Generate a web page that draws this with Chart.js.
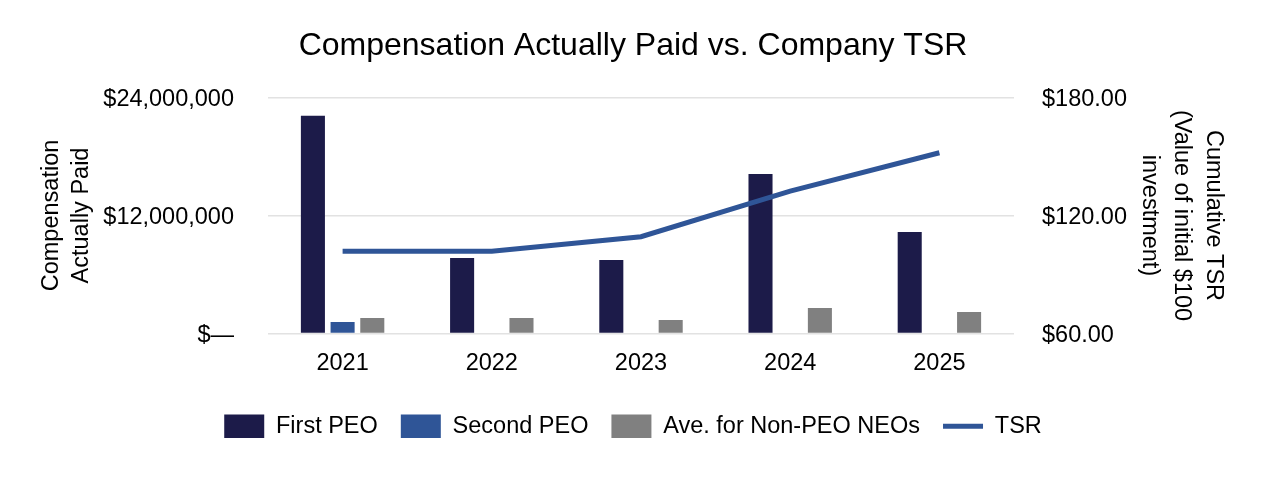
<!DOCTYPE html>
<html>
<head>
<meta charset="utf-8">
<script src="https://cdn.jsdelivr.net/npm/chart.js@4"></script>
<style>
html,body{margin:0;padding:0;background:#fff;}
#wrap{width:1266px;height:480px;position:relative;}
</style>
</head>
<body>
<div id="wrap"><canvas id="c"></canvas></div>
<script>
const categories = ['2021', '2022', '2023', '2024', '2025'];
const firstPEO = [22150000, 7680000, 7470000, 16220000, 10320000];
const secondPEO = [1170000, null, null, null, null];
const nonPEO = [1580000, 1580000, 1370000, 2590000, 2190000];
const tsr = [101.8, 101.8, 109.2, 132.4, 151.9];
const leftTickLabels = ['$\u2014', '$12,000,000', '$24,000,000'];
const rightTickLabels = ['$60.00', '$120.00', '$180.00'];
const seriesNames = ['First PEO', 'Second PEO', 'Ave. for Non-PEO NEOs', 'TSR'];
const chartTitle = 'Compensation Actually Paid vs. Company TSR';
const leftTitle = ['Compensation', 'Actually Paid'];
const rightTitle = ['Cumulative TSR', '(Value of initial $100', 'investment)'];

Chart.defaults.font.family = '"Liberation Sans", Arial, Helvetica, sans-serif';
Chart.defaults.color = '#000';

const FS = 23.5;

new Chart(document.getElementById('c'), {
  type: 'bar',
  data: {
    labels: categories,
    datasets: [
      { label: seriesNames[0], data: firstPEO, backgroundColor: '#1c1b49', yAxisID: 'y', order: 1,
        categoryPercentage: 0.597, barPercentage: 0.81 },
      { label: seriesNames[1], data: secondPEO, backgroundColor: '#2f5597', yAxisID: 'y', order: 1,
        categoryPercentage: 0.597, barPercentage: 0.81 },
      { label: seriesNames[2], data: nonPEO, backgroundColor: '#808080', yAxisID: 'y', order: 1,
        categoryPercentage: 0.597, barPercentage: 0.81 },
      { type: 'line', label: seriesNames[3], data: tsr, yAxisID: 'y1', order: 0,
        borderColor: '#2f5597', backgroundColor: '#2f5597', borderWidth: 5,
        pointRadius: 0, pointHoverRadius: 0, tension: 0, fill: false }
    ]
  },
  options: {
    responsive: true,
    maintainAspectRatio: false,
    animation: false,
    events: [],
    layout: { padding: { left: 0, right: 0, top: 0, bottom: 32 } },
    plugins: {
      title: {
        display: true,
        text: chartTitle,
        color: '#000',
        font: { size: 32, weight: 'normal' },
        padding: { top: 26.7, bottom: 32.4 }
      },
      legend: {
        position: 'bottom',
        labels: {
          usePointStyle: true,
          pointStyleWidth: 40,
          boxHeight: FS,
          padding: 23,
          color: '#000',
          font: { size: FS },
          sort: (a, b) => a.datasetIndex - b.datasetIndex,
          generateLabels: (chart) => {
            const items = Chart.defaults.plugins.legend.labels.generateLabels(chart);
            items.forEach(it => {
              if (it.datasetIndex === 3) {
                it.pointStyle = 'line';
                it.lineWidth = 5;
                it.strokeStyle = '#2f5597';
              } else {
                it.pointStyle = 'rect';
                it.lineWidth = 0;
              }
            });
            return items;
          }
        }
      },
      tooltip: { enabled: false }
    },
    scales: {
      x: {
        grid: { display: false, drawTicks: false },
        border: { display: false },
        ticks: { padding: 16, font: { size: FS }, color: '#000' },
        afterFit: (s) => { s.height = 58; }
      },
      y: {
        position: 'left',
        min: 0,
        max: 24000000,
        ticks: {
          stepSize: 12000000,
          padding: 34,
          labelOffset: 2,
          font: { size: FS },
          color: '#000',
          callback: (v, i) => leftTickLabels[i]
        },
        grid: { color: '#e2e2e2', lineWidth: 1.5, drawTicks: false },
        border: { display: false },
        title: {
          display: true,
          text: leftTitle,
          color: '#000',
          font: { size: FS, lineHeight: 1.25 },
          padding: { top: 37, bottom: 0 }
        },
        afterFit: (s) => { s.width = 268; }
      },
      y1: {
        position: 'right',
        min: 60,
        max: 180,
        ticks: {
          stepSize: 60,
          padding: 28,
          labelOffset: 2,
          font: { size: FS },
          color: '#000',
          callback: (v, i) => rightTickLabels[i]
        },
        grid: { drawOnChartArea: false, drawTicks: false },
        border: { display: false },
        title: {
          display: true,
          text: rightTitle,
          color: '#000',
          font: { size: FS, lineHeight: 1.36 },
          padding: { top: 37, bottom: 0 }
        },
        afterFit: (s) => { s.width = 252; }
      }
    }
  }
});
</script>
</body>
</html>
